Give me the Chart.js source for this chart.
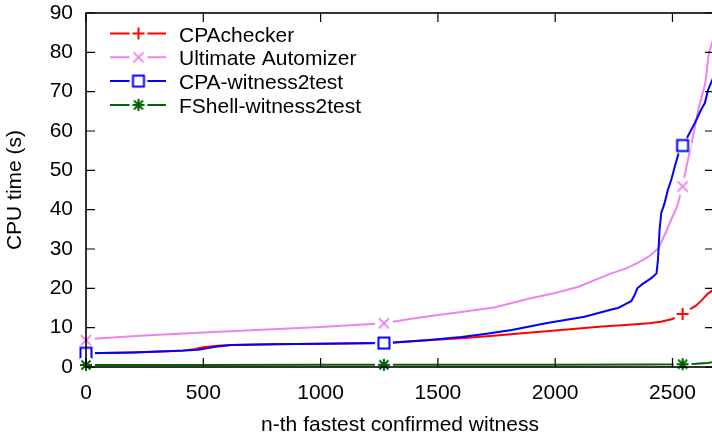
<!DOCTYPE html>
<html>
<head>
<meta charset="utf-8">
<script src="https://cdn.jsdelivr.net/npm/chart.js@4.4.0/dist/chart.umd.min.js"></script>
<style>
  html, body { margin: 0; padding: 0; background: #fff; overflow: hidden; }
  canvas { display: block; }
</style>
</head>
<body>
<canvas id="cpu-chart" width="722" height="438" style="width:722px;height:438px"></canvas>
<script>
// values (n-th witness, CPU time in s)
const cpaX = [0, 200, 400, 460, 500, 560, 620, 800, 1000, 1270, 1400, 1600, 1750, 1860, 2000, 2100, 2200, 2300, 2400, 2450, 2500, 2543, 2570, 2600, 2625, 2650, 2677];
const cpaY = [3.5, 3.7, 4.1, 4.5, 5.0, 5.4, 5.6, 5.8, 5.9, 6.1, 6.6, 7.3, 8.0, 8.6, 9.3, 9.8, 10.3, 10.7, 11.1, 11.5, 12.2, 13.5, 14.5, 15.6, 17.0, 18.6, 19.8];

const uaX = [0, 30, 250, 500, 750, 1000, 1270, 1400, 1500, 1600, 1745, 1890, 2000, 2100, 2160, 2240, 2300, 2350, 2400, 2440, 2470, 2500, 2520, 2543, 2560, 2590, 2610, 2640, 2655, 2677];
const uaY = [6.8, 7.2, 8.0, 8.8, 9.5, 10.2, 11.1, 12.4, 13.2, 14.0, 15.2, 17.4, 18.8, 20.4, 21.9, 23.8, 25.0, 26.4, 28.1, 30.2, 34.0, 38.2, 40.8, 45.9, 51.0, 59.4, 65.4, 72.2, 79.8, 84.0];

const cwX = [0, 200, 400, 480, 520, 560, 620, 800, 1000, 1270, 1320, 1450, 1600, 1700, 1815, 1960, 2125, 2240, 2268, 2300, 2325, 2340, 2350, 2370, 2410, 2432, 2438, 2445, 2452, 2466, 2480, 2495, 2510, 2530, 2543, 2565, 2595, 2622, 2638, 2652, 2677];
const cwY = [3.5, 3.7, 4.1, 4.4, 4.8, 5.2, 5.6, 5.8, 5.9, 6.1, 6.2, 6.8, 7.6, 8.4, 9.4, 11.1, 12.8, 14.6, 15.0, 16.0, 16.8, 18.5, 20.0, 21.0, 22.6, 23.8, 27.2, 34.9, 39.1, 41.6, 45.0, 47.6, 51.0, 55.2, 56.3, 58.6, 62.0, 65.4, 67.1, 70.5, 74.0];

const fsX = [0, 500, 1000, 1270, 1500, 2000, 2400, 2543, 2600, 2650, 2677];
const fsY = [0.5, 0.5, 0.55, 0.55, 0.6, 0.6, 0.65, 0.7, 0.8, 1.0, 1.3];

const xTicks = [0, 500, 1000, 1500, 2000, 2500];
const yTicks = [0, 10, 20, 30, 40, 50, 60, 70, 80, 90];

// gnuplot puts a marker every ~1270 points
const markerX = [0, 1270, 2543];

const xMax = 2677;
const yMax = 90;
const FONT = '"Liberation Sans", Arial, sans-serif';

function toPoints(xs, ys) {
  return xs.map((x, i) => ({ x: x, y: ys[i] }));
}

// marker image with a white gap round it, like gnuplot's pointintervalbox
function makeMarker(kind, color) {
  const c = document.createElement("canvas");
  c.width = 22;
  c.height = 22;
  const g = c.getContext("2d");
  g.fillStyle = "#fff";
  g.beginPath();
  g.arc(11, 11, 9, 0, Math.PI * 2);
  g.fill();
  g.strokeStyle = color;
  g.lineWidth = 2;
  const r = 6;
  g.beginPath();
  if (kind === "plus" || kind === "star") {
    g.moveTo(11 - r, 11); g.lineTo(11 + r, 11);
    g.moveTo(11, 11 - r); g.lineTo(11, 11 + r);
  }
  if (kind === "cross" || kind === "star") {
    const d = kind === "star" ? r * 0.75 : r * 0.85;
    g.moveTo(11 - d, 11 - d); g.lineTo(11 + d, 11 + d);
    g.moveTo(11 - d, 11 + d); g.lineTo(11 + d, 11 - d);
  }
  g.stroke();
  if (kind === "square") {
    g.strokeRect(5.5, 5.5, 11, 11);
  }
  return c;
}

const series = [
  { label: "CPAchecker", color: "#ff0000", marker: "plus", data: toPoints(cpaX, cpaY), order: 4 },
  { label: "Ultimate Automizer", color: "#ee82ee", marker: "cross", data: toPoints(uaX, uaY), order: 3 },
  { label: "CPA-witness2test", color: "#0000ff", marker: "square", data: toPoints(cwX, cwY), order: 2 },
  { label: "FShell-witness2test", color: "#006400", marker: "star", data: toPoints(fsX, fsY), order: 1 },
];

const framePlugin = {
  id: "frame",
  afterDatasetsDraw(chart) {
    const { ctx, chartArea: a } = chart;
    const xs = chart.scales.x;
    const ys = chart.scales.y;
    const len = 9;
    ctx.save();
    ctx.strokeStyle = "#000";
    ctx.lineWidth = 1.2;
    ctx.beginPath();
    xs.ticks.forEach((t) => {
      const px = xs.getPixelForValue(t.value);
      ctx.moveTo(px, a.bottom); ctx.lineTo(px, a.bottom - len);
      ctx.moveTo(px, a.top); ctx.lineTo(px, a.top + len);
    });
    ys.ticks.forEach((t) => {
      const py = ys.getPixelForValue(t.value);
      ctx.moveTo(a.left, py); ctx.lineTo(a.left + len, py);
      ctx.moveTo(a.right, py); ctx.lineTo(a.right - len, py);
    });
    ctx.stroke();
    ctx.lineWidth = 1.6;
    ctx.strokeRect(a.left, a.top, a.right - a.left, a.bottom - a.top);
    ctx.restore();
  },
};

const keyPlugin = {
  id: "key",
  afterDraw(chart) {
    const ctx = chart.ctx;
    const a = chart.chartArea;
    ctx.save();
    ctx.font = "21px " + FONT;
    ctx.textBaseline = "alphabetic";
    ctx.textAlign = "left";
    chart.data.datasets.forEach((ds, i) => {
      const y = a.top + 20.5 + i * 23.8;
      ctx.strokeStyle = ds.borderColor;
      ctx.lineWidth = 2;
      ctx.beginPath();
      ctx.moveTo(a.left + 24, y);
      ctx.lineTo(a.left + 80, y);
      ctx.stroke();
      const img = ds.pointStyle;
      ctx.drawImage(img, a.left + 52.5 - img.width / 2, y - img.height / 2);
      ctx.fillStyle = "#000";
      ctx.fillText(ds.label, a.left + 93, y + 8);
    });
    ctx.restore();
  },
};

new Chart("cpu-chart", {
  type: "scatter",
  data: {
    datasets: series.map((s) => ({
      label: s.label,
      data: s.data,
      showLine: true,
      borderColor: s.color,
      backgroundColor: s.color,
      borderWidth: 2,
      tension: 0,
      clip: false,
      order: s.order,
      pointStyle: makeMarker(s.marker, s.color),
      pointRadius: (c) => (c.raw && markerX.includes(c.raw.x) ? 6 : 0),
      pointHoverRadius: 0,
    })),
  },
  options: {
    responsive: false,
    animation: false,
    events: [],
    layout: { padding: { top: 13, right: 6, left: 0, bottom: 0 } },
    plugins: {
      legend: { display: false },
      tooltip: { enabled: false },
    },
    scales: {
      x: {
        type: "linear",
        min: 0,
        max: xMax,
        grid: { display: false, drawTicks: false },
        border: { display: false },
        ticks: {
          maxRotation: 0,
          autoSkip: false,
          padding: 14,
          color: "#000",
          font: { family: FONT, size: 21 },
          callback: (v) => String(v),
        },
        afterBuildTicks: (scale) => { scale.ticks = xTicks.map((v) => ({ value: v })); },
        title: {
          display: true,
          text: "n-th fastest confirmed witness",
          color: "#000",
          padding: { top: 0, bottom: 0 },
          font: { family: FONT, size: 21 },
        },
        afterFit: (scale) => {
          scale.height = 71;
          scale.paddingLeft = 0;
          scale.paddingRight = 0;
        },
      },
      y: {
        min: 0,
        max: yMax,
        grid: { display: false, drawTicks: false },
        border: { display: false },
        ticks: {
          padding: 13,
          color: "#000",
          font: { family: FONT, size: 21 },
          callback: (v) => String(v),
        },
        afterBuildTicks: (scale) => { scale.ticks = yTicks.map((v) => ({ value: v })); },
        title: {
          display: true,
          text: "CPU time (s)",
          color: "#000",
          padding: { top: 3, bottom: 0 },
          font: { family: FONT, size: 21 },
        },
        afterFit: (scale) => {
          scale.width = 86;
          scale.paddingTop = 0;
          scale.paddingBottom = 0;
        },
      },
    },
  },
  plugins: [framePlugin, keyPlugin],
});
</script>
</body>
</html>
